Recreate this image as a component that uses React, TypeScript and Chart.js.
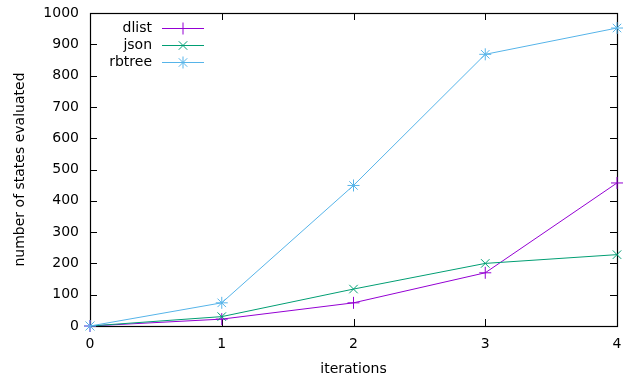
import React, { useEffect, useRef } from "react";
import { Chart, registerables } from "chart.js";

Chart.register(...registerables);

const iterations = [0, 1, 2, 3, 4];
const dlist = [0, 22, 74, 170, 457];
const json = [0, 30, 118, 200, 228];
const rbtree = [0, 74, 449, 868, 952];
const seriesNames = ["dlist", "json", "rbtree"];
const seriesColors = ["#9400d3", "#009e73", "#56b4e9"];
const seriesMarkers = ["cross", "crossRot", "star"];
const xTickValues = [0, 1, 2, 3, 4];
const yTickValues = [0, 100, 200, 300, 400, 500, 600, 700, 800, 900, 1000];
const xTitle = "iterations";
const yTitle = "number of states evaluated";

const FONT = "DejaVu Sans";

function drawMarker(ctx: CanvasRenderingContext2D, style: string, x: number, y: number, r: number) {
  ctx.beginPath();
  if (style === "cross" || style === "star") {
    ctx.moveTo(x - r, y);
    ctx.lineTo(x + r, y);
    ctx.moveTo(x, y - r);
    ctx.lineTo(x, y + r);
  }
  if (style === "crossRot" || style === "star") {
    const d = r * Math.SQRT1_2;
    ctx.moveTo(x - d, y - d);
    ctx.lineTo(x + d, y + d);
    ctx.moveTo(x - d, y + d);
    ctx.lineTo(x + d, y - d);
  }
  ctx.stroke();
}

const framePlugin = {
  id: "gnuplotFrame",
  beforeDatasetsDraw(chart: any) {
    const { ctx, chartArea, scales } = chart;
    const { left, right, top, bottom } = chartArea;
    const tl = 7;
    ctx.save();
    ctx.strokeStyle = "#000";
    ctx.lineWidth = 1;
    ctx.beginPath();
    for (const v of yTickValues) {
      const py = Math.round(scales.y.getPixelForValue(v)) + 0.5;
      ctx.moveTo(left, py);
      ctx.lineTo(left + tl, py);
      ctx.moveTo(right, py);
      ctx.lineTo(right - tl, py);
    }
    for (const v of xTickValues) {
      const px = Math.round(scales.x.getPixelForValue(v)) + 0.5;
      ctx.moveTo(px, bottom);
      ctx.lineTo(px, bottom - tl);
      ctx.moveTo(px, top);
      ctx.lineTo(px, top + tl);
    }
    ctx.stroke();
    ctx.lineWidth = 1.2;
    ctx.strokeRect(Math.round(left) + 0.5, Math.round(top) + 0.5, Math.round(right - left), Math.round(bottom - top));
    ctx.restore();
  },
  afterDatasetsDraw(chart: any) {
    const { ctx, chartArea } = chart;
    const textRight = chartArea.left + 62;
    const lineStart = chartArea.left + 72;
    const lineEnd = chartArea.left + 114;
    ctx.save();
    ctx.font = `14px "${FONT}"`;
    ctx.textAlign = "right";
    ctx.textBaseline = "middle";
    seriesNames.forEach((name, i) => {
      const yy = chartArea.top + 15 + i * 17;
      ctx.fillStyle = "#000";
      ctx.fillText(name, textRight, yy);
      ctx.strokeStyle = seriesColors[i];
      ctx.lineWidth = 1;
      ctx.beginPath();
      ctx.moveTo(lineStart, yy + 0.5);
      ctx.lineTo(lineEnd, yy + 0.5);
      ctx.stroke();
      drawMarker(ctx, seriesMarkers[i], (lineStart + lineEnd) / 2, yy + 0.5, 6);
    });
    ctx.restore();
  },
};

export default function App() {
  const ref = useRef<HTMLCanvasElement | null>(null);
  useEffect(() => {
    if (!ref.current) return;
    const seriesData = [dlist, json, rbtree];
    const chart = new Chart(ref.current, {
      type: "line",
      data: {
        datasets: seriesNames.map((name, i) => ({
          label: name,
          data: iterations.map((x, j) => ({ x, y: seriesData[i][j] })),
          borderColor: seriesColors[i],
          backgroundColor: seriesColors[i],
          borderWidth: 1,
          pointStyle: seriesMarkers[i] as any,
          pointRadius: 6,
          pointBorderWidth: 1,
          pointBorderColor: seriesColors[i],
          tension: 0,
          fill: false,
          clip: false as any,
          order: 3 - i,
        })),
      },
      options: {
        responsive: false,
        animation: false,
        devicePixelRatio: 1,
        layout: { padding: { top: 13, right: 7, left: 0, bottom: 0 } },
        plugins: {
          legend: { display: false },
          tooltip: { enabled: false },
        },
        scales: {
          x: {
            type: "linear",
            min: 0,
            max: 4,
            afterFit: (s: any) => { s.height = 55; s.paddingLeft = 0; s.paddingRight = 0; },
            afterBuildTicks: (s: any) => { s.ticks = xTickValues.map((v) => ({ value: v })); },
            grid: { display: false },
            border: { display: false },
            ticks: { padding: 2, color: "#000", font: { family: FONT, size: 14 }, maxRotation: 0, callback: (v: any) => String(v) },
            title: { display: true, text: xTitle, color: "#000", font: { family: FONT, size: 14 }, padding: { top: 0, bottom: 3 } },
          },
          y: {
            type: "linear",
            min: 0,
            max: 1000,
            afterFit: (s: any) => { s.width = 90; s.paddingTop = 0; s.paddingBottom = 0; },
            afterBuildTicks: (s: any) => { s.ticks = yTickValues.map((v) => ({ value: v })); },
            grid: { display: false },
            border: { display: false },
            ticks: { padding: 3, color: "#000", font: { family: FONT, size: 14 }, callback: (v: any) => String(v) },
            title: { display: true, text: yTitle, color: "#000", font: { family: FONT, size: 14 }, padding: { top: 11.6, bottom: 0 } },
          },
        },
      },
      plugins: [framePlugin],
    });
    return () => chart.destroy();
  }, []);
  return (
    <div style={{ position: "absolute", left: 0, top: 0, width: 624, height: 381, background: "#fff" }}>
      <canvas ref={ref} width={624} height={381} style={{ display: "block" }} />
    </div>
  );
}
